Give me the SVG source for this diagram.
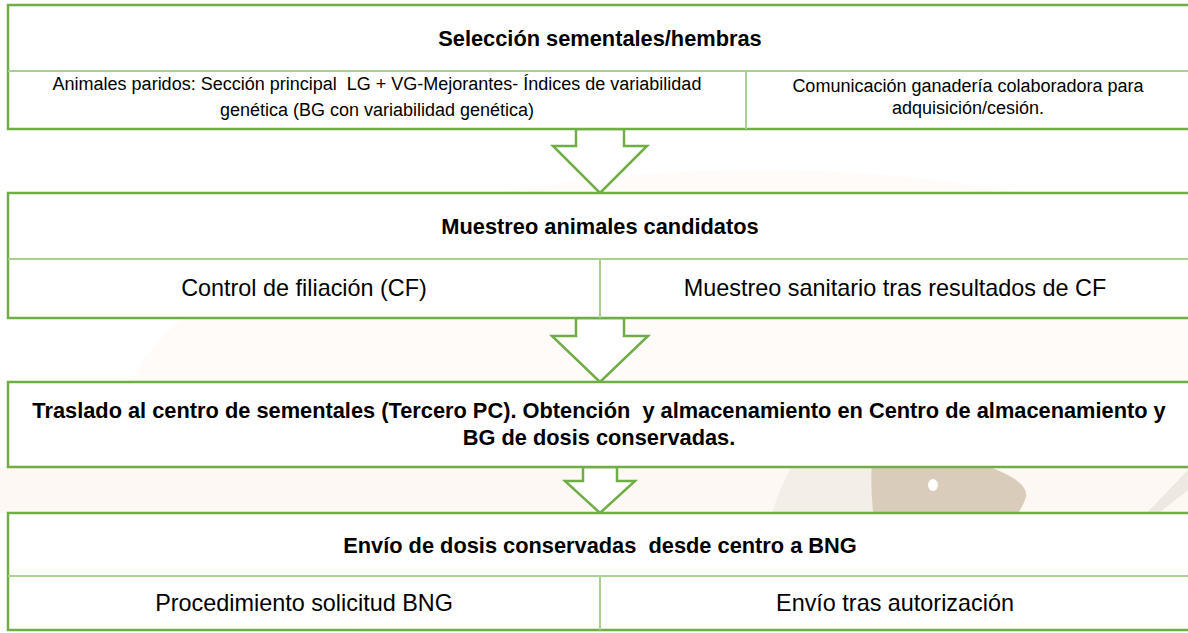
<svg xmlns="http://www.w3.org/2000/svg" width="1188" height="633" viewBox="0 0 1188 633">
<style>
.box{fill:#ffffff;stroke:#70AD47;stroke-width:2.5}
.inner{stroke:#A9D18E;stroke-width:2;fill:none}
.arrow{fill:#ffffff;stroke:#70AD47;stroke-width:2.5;stroke-linejoin:miter}
text{font-family:"Liberation Sans",Arial,sans-serif;fill:#000;text-anchor:middle;white-space:pre}
.h{font-weight:bold;font-size:21.8px}
.r{font-size:23.4px}
.s{font-size:18px}
</style>
<rect width="1188" height="633" fill="#ffffff"/>
<g id="watermark">
<ellipse cx="760" cy="430" rx="640" ry="260" fill="#fefbf8"/>
<path d="M0,467 L1188,467 L1188,513 L0,513 Z" fill="#fdf8f4"/>
<path d="M795,460 Q778,490 770,520 L880,520 L880,460 Z" fill="#f3eee8"/>
<path d="M872,460 L968,460 Q1030,478 1026,497 Q1022,510 1012,520 L874,520 Q870,490 872,460 Z" fill="#d9ccba"/>
<ellipse cx="933" cy="485" rx="5" ry="6" fill="#ffffff"/>
<path d="M1188,470 L1188,490 L1150,520 L1140,520 Z" fill="#eee8e2"/>
</g>
<g id="connectors">
<polygon class="arrow" points="576,129 576,146 553,146 600,193 647,146 624,146 624,129"/>
<polygon class="arrow" points="576,318 576,336 552,336 600,382 648,336 624,336 624,318"/>
<polygon class="arrow" points="583,467 583,481 565,481 600,513 635,481 617,481 617,467"/>
</g>
<g id="node1">
<rect class="box" x="8" y="5" width="1190" height="124"/>
<line class="inner" x1="8" y1="71" x2="1198" y2="71"/>
<line class="inner" x1="746" y1="71" x2="746" y2="129"/>
<text class="h" x="600" y="46">Selección sementales/hembras</text>
<text class="s" x="377" y="90">Animales paridos: Sección principal  LG + VG-Mejorantes- Índices de variabilidad</text>
<text class="s" x="377" y="116">genética (BG con variabilidad genética)</text>
<text class="s" x="968" y="92">Comunicación ganadería colaboradora para</text>
<text class="s" x="968" y="114">adquisición/cesión.</text>
</g>
<g id="node2">
<rect class="box" x="8" y="193" width="1190" height="125"/>
<line class="inner" x1="8" y1="259" x2="1198" y2="259"/>
<line class="inner" x1="600" y1="259" x2="600" y2="318"/>
<text class="h" x="600" y="234">Muestreo animales candidatos</text>
<text class="r" x="304" y="296">Control de filiación (CF)</text>
<text class="r" x="895" y="296">Muestreo sanitario tras resultados de CF</text>
</g>
<g id="node3">
<rect class="box" x="8" y="382" width="1190" height="85"/>
<text class="h" x="599" y="418">Traslado al centro de sementales (Tercero PC). Obtención  y almacenamiento en Centro de almacenamiento y</text>
<text class="h" x="599" y="445">BG de dosis conservadas.</text>
</g>
<g id="node4">
<rect class="box" x="8" y="513" width="1190" height="117"/>
<line class="inner" x1="8" y1="576" x2="1198" y2="576"/>
<line class="inner" x1="600" y1="576" x2="600" y2="630"/>
<text class="h" x="600" y="553">Envío de dosis conservadas  desde centro a BNG</text>
<text class="r" x="304" y="611">Procedimiento solicitud BNG</text>
<text class="r" x="895" y="611">Envío tras autorización</text>
</g>
</svg>
